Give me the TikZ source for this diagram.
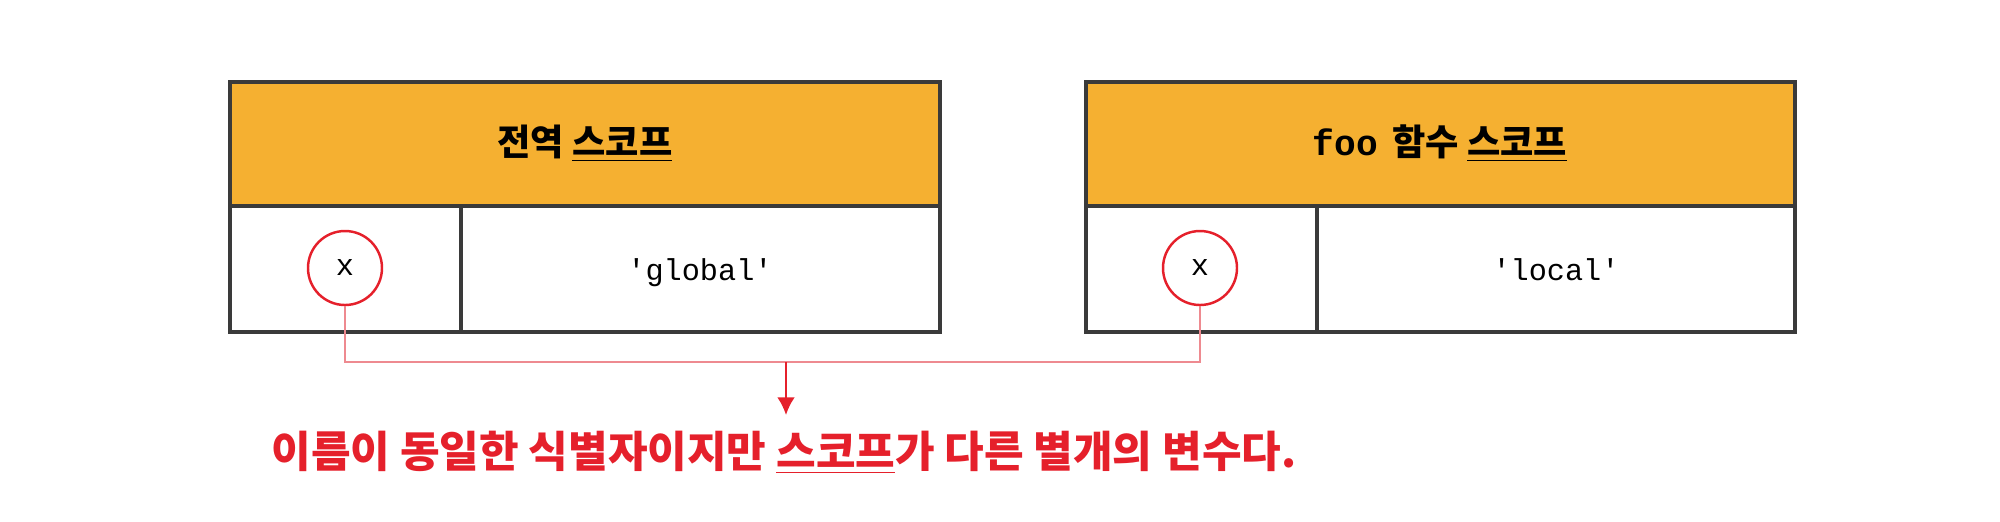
\documentclass[tikz,border=0pt]{standalone}
\usepackage{fontspec}
\usetikzlibrary{arrows.meta}
\setmainfont{Noto Sans CJK KR}
\setmonofont{Liberation Mono}
\newfontfamily\kofont{Noto Sans CJK KR}
\definecolor{scopeorange}{HTML}{F5B031}
\definecolor{notered}{HTML}{E5202B}
\definecolor{linkred}{HTML}{EE8A90}
\definecolor{framegray}{HTML}{3A3A3A}
\tikzset{
  scopehead/.style={font=\kofont\bfseries\fontsize{10.3}{12}\selectfont},
  cellval/.style={font=\ttfamily\fontsize{8.6}{10}\selectfont,anchor=base},
  varcircle/.style={circle,draw=notered,line width=0.7pt,minimum size=0.74cm,inner sep=0pt,font=\ttfamily\fontsize{8.6}{10}\selectfont},
}
\begin{document}
\begin{tikzpicture}
    \useasboundingbox (0,0) rectangle (20,5.21);
    % global scope
    \draw[framegray,line width=0.9pt,fill=scopeorange] (2.30,3.15) rectangle (9.40,4.39); % head
    \draw[framegray,line width=0.9pt] (2.30,1.89) rectangle (9.40,3.15) (4.61,1.89)--(4.61,3.15);
    \node[scopehead] (ghead) at (5.85,3.77) {전역 \underline{스코프}};
    \node[varcircle] (xl) at (3.45,2.53) {x};
    \node[cellval] (gval) at (7.00,2.41) {'global'};
    % foo scope
    \draw[framegray,line width=0.9pt,fill=scopeorange] (10.86,3.15) rectangle (17.95,4.39); % head
    \draw[framegray,line width=0.9pt] (10.86,1.89) rectangle (17.95,3.15) (13.17,1.89)--(13.17,3.15);
    \node[scopehead] (fhead) at (14.40,3.77) {{\ttfamily\bfseries foo}\, 함수 \underline{스코프}};
    \node[varcircle] (xr) at (12.00,2.53) {x};
    \node[cellval] (fval) at (15.56,2.41) {'local'};
    % connector
    \coordinate (join) at (7.86,1.59);
    \node[text=notered,font=\kofont\bfseries\fontsize{12.25}{14}\selectfont,inner sep=0pt] (note) at (7.84,0.68) {이름이 동일한 식별자이지만 \underline{스코프}가 다른 별개의 변수다.};
    \draw[linkred,line width=0.6pt] (xl.south) |- (join) -| (xr.south);
    \draw[notered,line width=0.6pt,-{Latex[length=5pt,width=5pt]}] (join) -- (join |- 0,1.06);
\end{tikzpicture}
\end{document}
